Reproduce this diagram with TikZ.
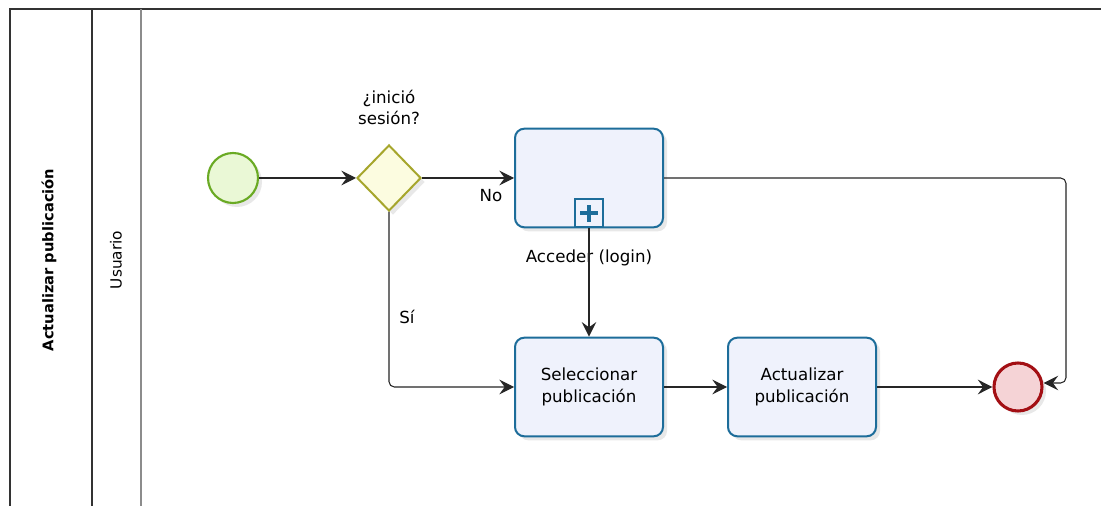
\documentclass[tikz,border=0pt]{standalone}
\usepackage{fontspec}
\setmainfont{DejaVu Sans}
\usetikzlibrary{arrows.meta,shapes.geometric,shadows}

\definecolor{startline}{HTML}{6AAA24}
\definecolor{startfill}{HTML}{EAF8D6}
\definecolor{gateline}{HTML}{A6A62C}
\definecolor{gatefill}{HTML}{FCFCE0}
\definecolor{taskline}{HTML}{1D6D9A}
\definecolor{taskfill}{HTML}{EFF2FC}
\definecolor{endline}{HTML}{A30F14}
\definecolor{endfill}{HTML}{F5D3D6}

\tikzset{
  soft/.style={drop shadow={opacity=0.18,shadow xshift=3pt,shadow yshift=-3pt}},
  startev/.style={circle,draw=startline,line width=1.6pt,fill=startfill,
    minimum size=37.5pt,inner sep=0pt,soft},
  endev/.style={circle,draw=endline,line width=2.3pt,fill=endfill,
    minimum size=36pt,inner sep=0pt,soft},
  gatebox/.style={diamond,draw=gateline,line width=1.5pt,fill=gatefill,
    minimum width=48pt,minimum height=49.5pt,inner sep=0pt,soft},
  taskbox/.style={rectangle,rounded corners=7pt,draw=taskline,line width=1.5pt,
    fill=taskfill,minimum width=111pt,minimum height=74pt,align=center,
    font=\fontsize{12.5}{16}\selectfont,soft},
  plusbox/.style={rectangle,draw=taskline,line width=1.5pt,fill=taskfill,
    minimum size=21pt,inner sep=0pt},
  flow/.style={draw=black!85,line width=0.8pt,rounded corners=4pt,
    -{Stealth[length=11pt,width=11pt,inset=4pt]}},
  lbl/.style={font=\fontsize{12.5}{15.5}\selectfont,align=center},
}

\begin{document}
\begin{tikzpicture}[x=0.75pt,y=-0.75pt]
  %%%%% POOL %%%%%
  \useasboundingbox (0,0) rectangle (1101,506);
  \fill[white] (0,0) rectangle (1101,506);
  \draw[line width=1.4pt,black!80] (10,506) -- (10,9) -- (1101,9);
  \draw[line width=1.4pt,black!80] (92,9) -- (92,506);
  \draw[line width=1.4pt,black!45] (141,9) -- (141,506);
  \node[rotate=90,font=\bfseries\fontsize{11}{12}\selectfont] (pooltitle) at (49,260) {Actualizar publicación};
  \node[rotate=90,font=\fontsize{11.5}{12}\selectfont] (lane) at (116,260) {Usuario};

  %%%%% NODES %%%%%
  \node[startev] (start) at (233,178) {};
  \node[gatebox] (gate) at (389,178) {};
  \node[lbl,anchor=south] (gatelbl) at (389,129) {¿inició\\sesión?};
  \node[taskbox] (login) at (589,178) {};
  \node[plusbox,anchor=south] (plus) at (login.south) {};
  \fill[taskline] ([xshift=-6.5pt,yshift=-1.4pt]plus.center) rectangle ([xshift=6.5pt,yshift=1.4pt]plus.center);
  \fill[taskline] ([xshift=-1.4pt,yshift=-6.5pt]plus.center) rectangle ([xshift=1.4pt,yshift=6.5pt]plus.center);
  \node[lbl] (loginlbl) at (589,258) {Acceder (login)};
  \node[taskbox] (select) at (589,387) {Seleccionar\\publicación};
  \node[taskbox] (update) at (802,387) {Actualizar\\publicación};
  \node[endev] (end) at (1018,387) {};
  \coordinate (bend) at (1066,383);

  %%%%% FLOWS %%%%%
  \draw[flow] (start) -- (gate);
  \draw[flow] (gate.east) -- node[lbl,pos=0.75,below=5pt] (no) {No} (login.west);
  \draw[flow] (gate.south) |- node[lbl,pos=0.3,right=4pt] (si) {Sí} (select.west);
  \draw[flow] (plus.south) -- (select.north);
  \draw[flow] (select) -- (update);
  \draw[flow] (update) -- (end);
  \draw[flow] (login.east) -| (bend) -- (end.east |- bend);
\end{tikzpicture}
\end{document}
